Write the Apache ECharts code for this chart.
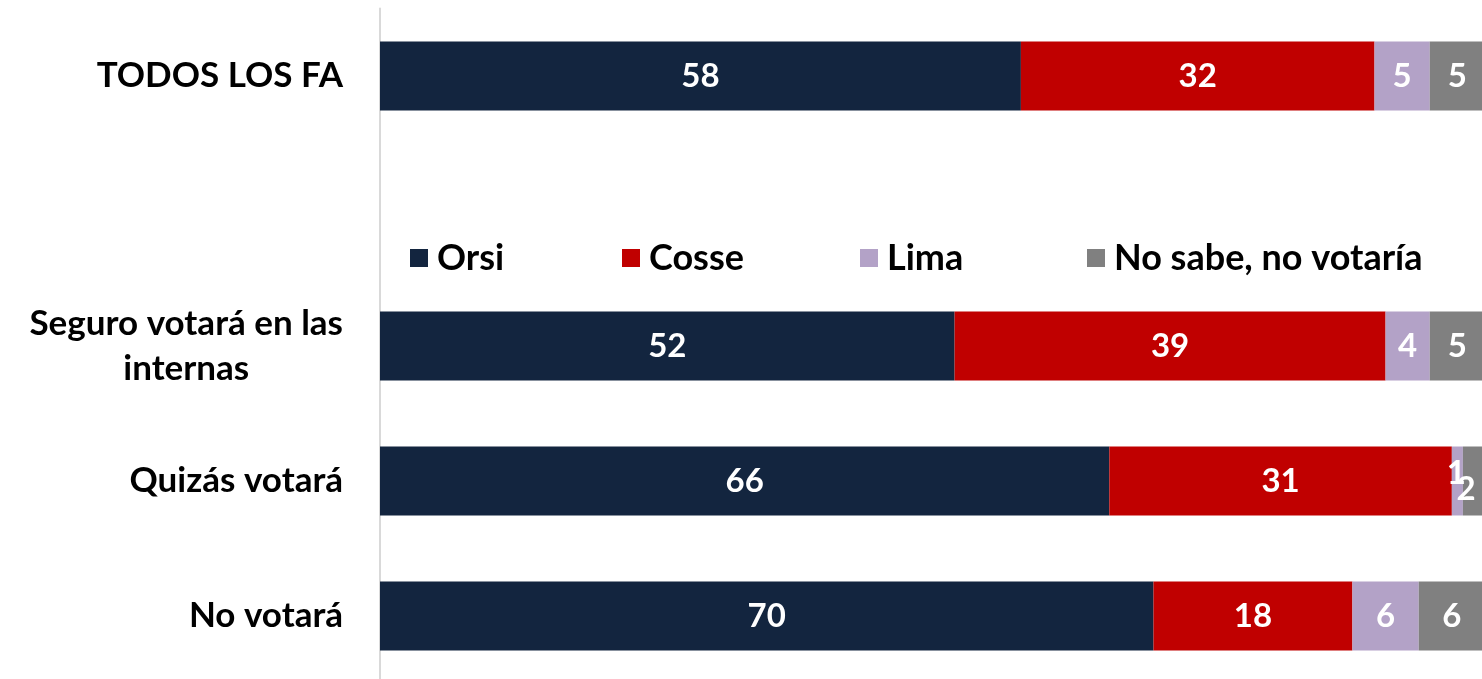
<!DOCTYPE html>
<html>
<head>
<meta charset="utf-8">
<script src="https://cdn.jsdelivr.net/npm/echarts@6/dist/echarts.min.js"></script>
<style>html,body{margin:0;padding:0;background:#fff}#c{width:1482px;height:679px}</style>
</head>
<body>
<div id="c"></div>
<script>
const categories = ['TODOS LOS FA', '', 'Seguro votará en las\ninternas', 'Quizás votará', 'No votará'];
const seriesNames = ['Orsi', 'Cosse', 'Lima', 'No sabe, no votaría'];
const orsi = [58, null, 52, 66, 70];
const cosse = [32, null, 39, 31, 18];
const lima = [5, null, 4, 1, 6];
const noSabe = [5, null, 5, 2, 6];
const colors = ['#13253F', '#C00000', '#B3A2C7', '#808080'];
const legendLeft = [410, 622, 860, 1087];

const FONT = 'Lato';
const chart = echarts.init(document.getElementById('c'));
const values = [orsi, cosse, lima, noSabe];

// small label nudges for the narrow segments (series index -> category index -> offset)
const labelNudge = { 2: { 3: [-1, -8] }, 3: { 3: [-8, 8] } };

const legends = seriesNames.map((n, i) => ({
  data: [n],
  left: legendLeft[i],
  top: 240,
  orient: 'horizontal',
  itemWidth: 18,
  itemHeight: 18,
  icon: 'rect',
  selectedMode: false,
  padding: 0,
  textStyle: { fontFamily: FONT, fontWeight: 'bold', fontSize: 36, color: '#000', padding: [0, 0, 0, 4] }
}));

chart.setOption({
  animation: false,
  legend: legends,
  grid: { left: 380, width: 1105, top: 8.5, height: 675, containLabel: false, outerBoundsMode: 'none' },
  xAxis: { type: 'value', min: 0, max: 100, show: false },
  yAxis: {
    type: 'category',
    data: categories,
    inverse: true,
    axisLine: { show: true, lineStyle: { color: '#D9D9D9', width: 2 } },
    axisTick: { show: false },
    axisLabel: {
      margin: 37,
      align: 'right',
      formatter: v => v.split('\n').map(s => '{a|' + s + '}').join('\n'),
      rich: {
        a: { fontFamily: FONT, fontWeight: 'bold', fontSize: 35, color: '#000', lineHeight: 45, align: 'center' }
      }
    }
  },
  series: values.map((v, i) => ({
    name: seriesNames[i],
    type: 'bar',
    stack: 'total',
    barWidth: 69,
    data: v.map((val, j) => {
      const n = labelNudge[i] && labelNudge[i][j];
      return n ? { value: val, label: { offset: n } } : val;
    }),
    itemStyle: { color: colors[i] },
    label: {
      show: true,
      position: 'inside',
      color: '#fff',
      fontFamily: FONT,
      fontWeight: 'bold',
      fontSize: 33,
      formatter: p => (p.value == null ? '' : String(p.value))
    }
  }))
});
</script>
</body>
</html>
